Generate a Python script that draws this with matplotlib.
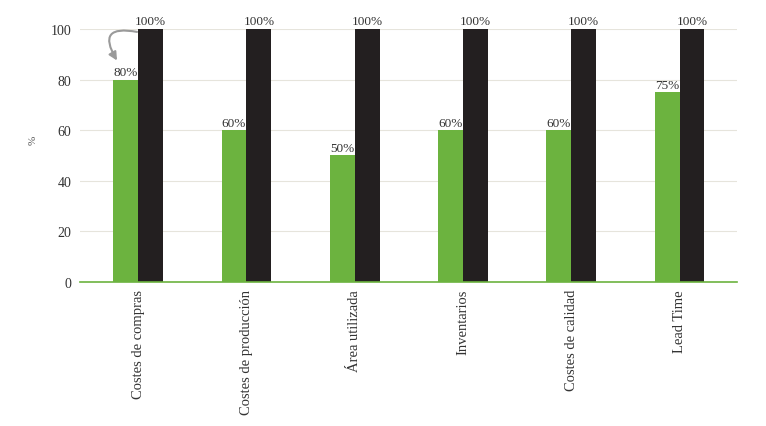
import numpy as np
import matplotlib
matplotlib.use('Agg')
import matplotlib.pyplot as plt

categories = ['Costes de compras', 'Costes de producción', 'Área utilizada',
              'Inventarios', 'Costes de calidad', 'Lead Time']
after = [80, 60, 50, 60, 60, 75]
before = [100, 100, 100, 100, 100, 100]
yticks = [0, 20, 40, 60, 80, 100]

plt.rcParams['font.family'] = ['Liberation Serif', 'DejaVu Serif']

GREEN = '#6cb33f'
BLACK = '#231f20'
TXT = '#333333'

fig = plt.figure(figsize=(7.66, 4.27), dpi=100)
ax = fig.add_axes([0.104, 0.337, 0.858, 0.593])

x = np.arange(len(categories))
w = 0.23
ax.bar(x - w / 2, after, w, color=GREEN, zorder=3)
ax.bar(x + w / 2, before, w, color=BLACK, zorder=3)

for xi, a, b in zip(x, after, before):
    ax.text(xi - w / 2, a + 0.6, f'{a}%', ha='center', va='bottom', fontsize=9.5, color=TXT)
    ax.text(xi + w / 2, b + 0.6, f'{b}%', ha='center', va='bottom', fontsize=9.5, color=TXT)

# curved arrow from the 100% bar down to the 80% label
ax.annotate('', xy=(-0.195, 87.5), xytext=(-0.01, 98.8),
            arrowprops=dict(arrowstyle='-|>', color='#9a9a9a', lw=1.5,
                            connectionstyle='arc3,rad=1.1', mutation_scale=12,
                            shrinkA=0, shrinkB=0),
            zorder=4)

ax.set_xlim(-0.54, 5.53)
ax.set_ylim(0, 100)
ax.set_yticks(yticks)
ax.set_yticklabels([str(v) for v in yticks], fontsize=10, color=TXT)
ax.set_xticks(x)
ax.set_xticklabels(categories, rotation=90, fontsize=10.5, color=TXT, va='top')
ax.tick_params(length=0, pad=5)
ax.tick_params(axis='y', pad=6)
fig.text(33 / 766, 1 - 140 / 427, '%', rotation=90, fontsize=8, color='#555555',
         ha='center', va='center')

ax.grid(axis='y', color='#e6e4dc', lw=0.8, zorder=0)
for s in ['top', 'right', 'left']:
    ax.spines[s].set_visible(False)
ax.spines['bottom'].set_color(GREEN)
ax.spines['bottom'].set_linewidth(1.2)
ax.spines['bottom'].set_zorder(4)

fig.savefig('out.png', dpi=100, facecolor='white')
